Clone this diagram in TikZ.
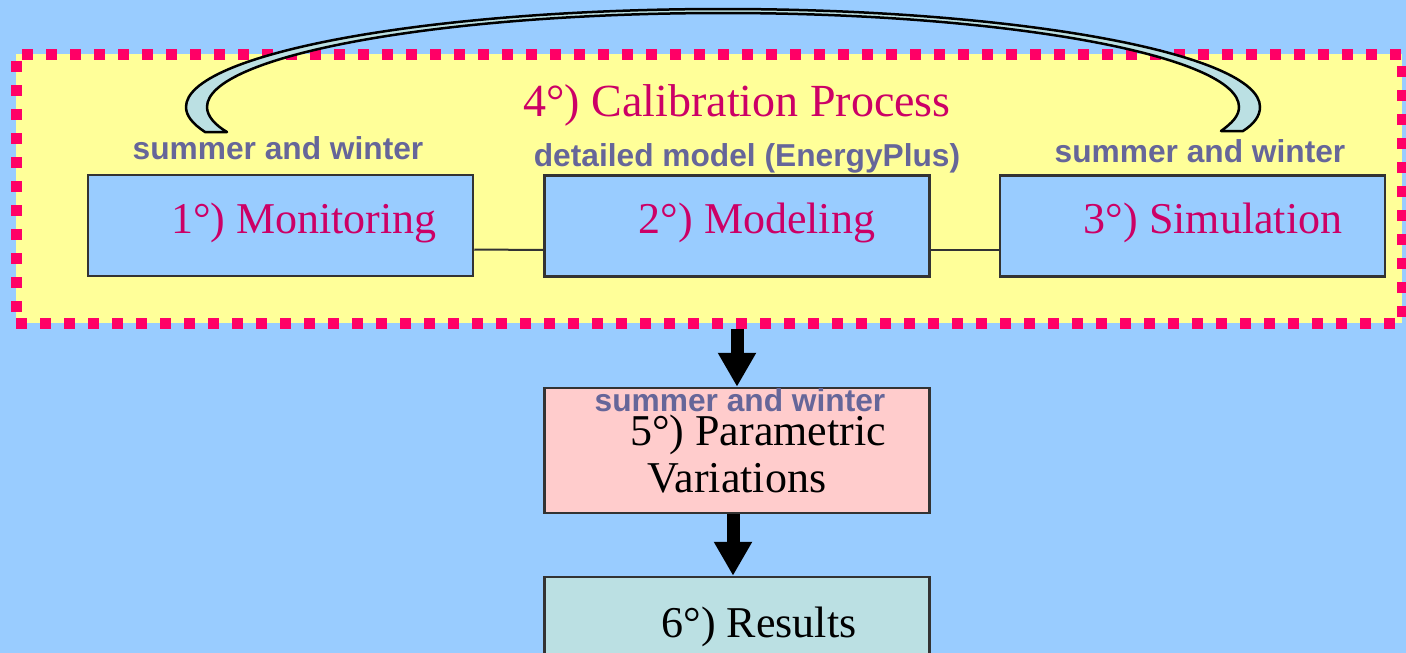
\documentclass[tikz,border=0pt]{standalone}
\usepackage{fontspec}
\setmainfont{Liberation Serif}
\newfontfamily\notefont{Liberation Sans}
\usetikzlibrary{arrows.meta}

\definecolor{skyblue}{HTML}{99CCFF}
\definecolor{paleyellow}{HTML}{FFFF99}
\definecolor{hotpink}{HTML}{FF0066}
\definecolor{crimsontext}{HTML}{CC0066}
\definecolor{slatetext}{HTML}{666699}
\definecolor{palepink}{HTML}{FFCCCC}
\definecolor{paleteal}{HTML}{BBE0E3}
\definecolor{boxline}{HTML}{333333}

\tikzset{
  procbox/.style={draw=boxline, line width=2.5pt, inner sep=0pt,
    minimum width=385pt, minimum height=101pt},
  steptext/.style={anchor=base, inner sep=0pt, font={\fontsize{44}{47}\selectfont}},
  note/.style={anchor=base, inner sep=0pt, text=slatetext,
    font={\notefont\bfseries\fontsize{31.7}{36}\selectfont}},
  bigarrow/.style={line width=13pt, -{Triangle[width=36pt, length=34pt]}},
  link/.style={draw=boxline, line width=2pt},
}

\begin{document}
\begin{tikzpicture}[x=1pt, y=-1pt]

    % ---- Canvas ----
    \useasboundingbox (0,0) rectangle (1406,653);
    \fill[skyblue] (0,0) rectangle (1406,653);

    % ---- 4) Calibration frame (dotted) ----
    \node[fill=paleyellow, draw=hotpink, line width=11pt,
          dash pattern=on 11pt off 13pt, minimum width=1386pt,
          minimum height=269pt, inner sep=0pt] (calib) at (709,188.5) {};
    \node[steptext, text=crimsontext, font={\fontsize{46}{50}\selectfont}]
        (calibtxt) at (737,116) {4°) Calibration Process};

    % ---- Steps 1-3 ----
    \node[procbox, fill=skyblue] (mon) at (280.5,225.5) {};
    \node[procbox, fill=skyblue] (mod) at (737,226) {};
    \node[procbox, fill=skyblue] (sim) at (1192.5,226) {};
    \node[steptext, text=crimsontext] (montxt) at (304,233) {1°) Monitoring};
    \node[steptext, text=crimsontext] (modtxt) at (757,233) {2°) Modeling};
    \node[steptext, text=crimsontext] (simtxt) at (1213,233) {3°) Simulation};

    % links between the steps (below mid height)
    \draw[link] ([yshift=-24pt]mon.east) -- ([yshift=-24pt]mod.west);
    \draw[link] ([yshift=-24pt]mod.east) -- ([yshift=-24pt]sim.west);

    % ---- Notes over the steps ----
    \node[note] (monnote) at (278,159) {summer and winter};
    \node[note] (modnote) at (747,166) {detailed model (EnergyPlus)};
    \node[note] (simnote) at (1200,162) {summer and winter};

    % ---- Curved band from monitoring to simulation ----
    \filldraw[fill=paleteal, draw=black, line width=2.5pt, line join=round]
        (205,132) .. controls (193,124) and (186,116) .. (186,107)
        .. controls (186,54) and (427,9) .. (723,9)
        .. controls (1019,9) and (1260,54) .. (1260,107)
        .. controls (1260,116) and (1254,124) .. (1243,131)
        -- (1221,131)
        .. controls (1232,123) and (1239,116) .. (1239,107)
        .. controls (1239,56) and (1008,13) .. (723,13)
        .. controls (438,13) and (207,56) .. (207,107)
        .. controls (207,116) and (215,125) .. (227,132)
        -- cycle;

    % ---- 5) Parametric variations ----
    \node[procbox, fill=palepink, minimum height=125pt] (param) at (737,450.5) {};
    \node[steptext, align=center] (paramtxt) at (737,492)
        {\hspace*{42pt}5°) Parametric\\Variations};
    \node[note] (paramnote) at (740,411) {summer and winter};

    % ---- 6) Results ----
    \node[procbox, fill=paleteal, minimum height=102pt] (res) at (737,628) {};
    \node[steptext] (restxt) at (759,637) {6°) Results};

    % ---- Flow arrows ----
    \draw[bigarrow] (param.north |- calib.south) -- (param.north);
    \draw[bigarrow] ([xshift=-4pt]param.south) -- ([xshift=-4pt]res.north);

\end{tikzpicture}
\end{document}
